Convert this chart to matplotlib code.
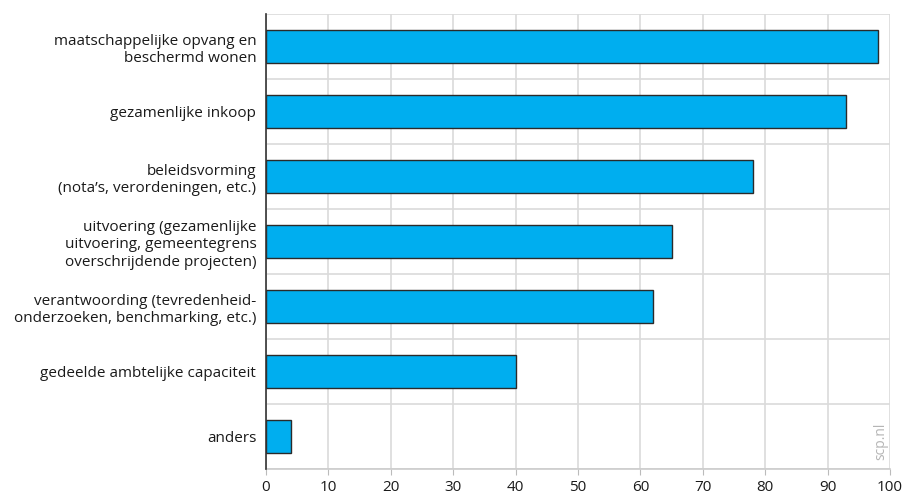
import matplotlib
matplotlib.use("Agg")
import matplotlib.pyplot as plt
import numpy as np

categories = [
    "maatschappelijke opvang en\nbeschermd wonen",
    "gezamenlijke inkoop",
    "beleidsvorming\n(nota\u2019s, verordeningen, etc.)",
    "uitvoering (gezamenlijke\nuitvoering, gemeentegrens\noverschrijdende projecten)",
    "verantwoording (tevredenheid-\nonderzoeken, benchmarking, etc.)",
    "gedeelde ambtelijke capaciteit",
    "anders",
]
values = [98, 93, 78, 65, 62, 40, 4]
xticks = [0, 10, 20, 30, 40, 50, 60, 70, 80, 90, 100]

plt.rcParams['font.family'] = ['Open Sans', 'DejaVu Sans']

fig = plt.figure(figsize=(9.05, 4.96), dpi=100)
ax = fig.add_axes([266/905, 1-469/496, (890-266)/905, (469-14)/496])

n = len(categories)
y = np.arange(n)
ax.barh(y, values, height=0.5, color="#00AEEF", edgecolor="#2a2a2a", linewidth=1.0, zorder=3)

ax.set_xlim(0, 100)
ax.set_ylim(n - 0.5, -0.5)
ax.set_xticks(xticks)
ax.set_xticklabels([str(t) for t in xticks], fontsize=11, color="#1a1a1a")
ax.set_yticks(y)
ax.set_yticklabels(categories, fontsize=11, color="#1a1a1a", linespacing=1.25)
ax.set_yticks(np.arange(n + 1) - 0.5, minor=True)

ax.grid(axis="x", which="major", color="#dadada", linewidth=1.2, zorder=0)
ax.grid(axis="y", which="minor", color="#dadada", linewidth=1.2, zorder=0)
ax.tick_params(axis="y", which="both", length=0, pad=7)
ax.tick_params(axis="x", which="major", length=4, color="#bbbbbb", pad=4)

for s in ["top", "right"]:
    ax.spines[s].set_visible(False)
ax.spines["bottom"].set_color("#cccccc")
ax.spines["bottom"].set_linewidth(1.2)
ax.spines["left"].set_color("#333333")
ax.spines["left"].set_linewidth(1.2)
ax.spines["left"].set_zorder(4)

ax.text(0.985, 0.02, "scp.nl", transform=ax.transAxes, rotation=90,
        ha="center", va="bottom", fontsize=10, color="#b5b5b5")

fig.savefig("out.png", dpi=100)
